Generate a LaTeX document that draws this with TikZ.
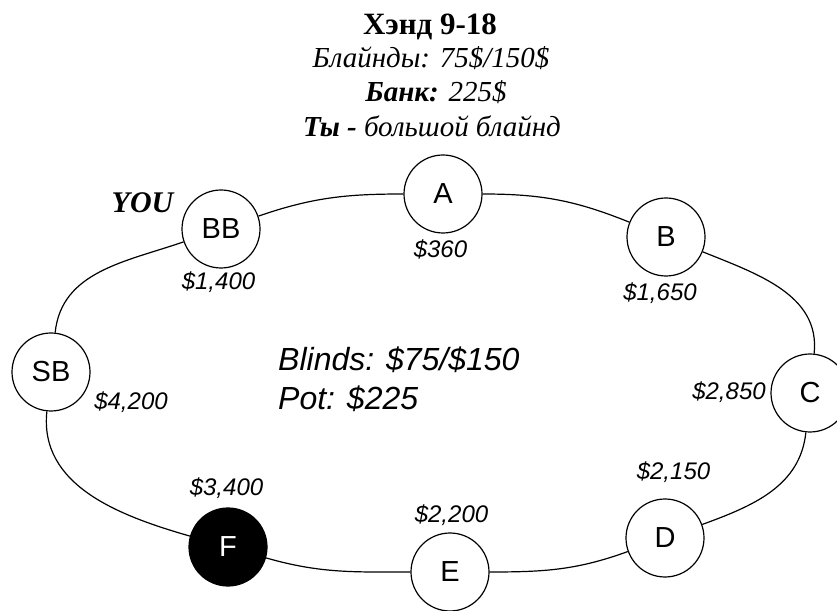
\documentclass[tikz,border=0pt]{standalone}
\usepackage{fontspec}
\setmainfont{Liberation Serif}
\newfontfamily\sansf{Liberation Sans}
\begin{document}
\begin{tikzpicture}[x=1pt,y=1pt,
  seat/.style={circle,draw,line width=1.2pt,fill=white,minimum size=78pt,inner sep=0pt,font=\sansf\fontsize{29}{29}\selectfont},
  dark/.style={seat,fill=black,text=white},
  stack/.style={font=\sansf\itshape\fontsize{24}{24}\selectfont,inner sep=0pt},
  rail/.style={line width=1.2pt},
  title/.style={font=\fontsize{29}{34}\selectfont,inner sep=0pt,anchor=base},
  info/.style={font=\sansf\itshape\fontsize{32}{38}\selectfont,inner sep=0pt,anchor=base west}]
\useasboundingbox (0,0) rectangle (837,610);
% titles
\node[title,font=\fontsize{31}{34}\selectfont] (t1) at (430,575) {\bfseries Хэнд 9-18};
\node[title] (t2) at (431,542) {\itshape Блайнды: 75\$/150\$};
\node[title] (t3) at (436,508) {\bfseries\itshape Банк: \mdseries 225\$};
\node[title] (t4) at (432,473) {\bfseries\itshape Ты - \mdseries большой блайнд};
% seats
\node[seat] (A) at (443,416) {A};
\node[seat] (B) at (666,373) {B};
\node[seat] (C) at (810,217) {C};
\node[seat] (D) at (665,72) {D};
\node[seat] (E) at (450,38) {E};
\node[dark] (F) at (228,63) {F};
\node[seat] (SB) at (51,238) {SB};
\node[seat] (BB) at (221,381) {BB};
% rails
\draw[rail] (A) to[out=0,in=158] (B);
\draw[rail] (B) to[out=-22,in=84] (C);
\draw[rail] (C) to[out=-96,in=20] (D);
\draw[rail] (D) to[out=200,in=0] (E);
\draw[rail] (E) to[out=180,in=-16] (F);
\draw[rail] (F) to[out=164,in=-96] (SB);
\draw[rail] (SB) to[out=84,in=199] (BB);
\draw[rail] (BB) to[out=19,in=180] (A);
% labels
\node[font=\bfseries\itshape\fontsize{30}{30}\selectfont,inner sep=0pt] (you) at (142.5,407.5) {YOU};
\node[stack] (sBB) at (218.5,327.5) {\$1,400};
\node[stack] (sA) at (440.5,361) {\$360};
\node[stack] (sB) at (660,316.5) {\$1,650};
\node[stack] (sC) at (729,217.5) {\$2,850};
\node[stack] (sD) at (673.5,137.5) {\$2,150};
\node[stack] (sE) at (451.5,95) {\$2,200};
\node[stack] (sF) at (226.5,121.5) {\$3,400};
\node[stack] (sSB) at (131,208) {\$4,200};
\node[info] (blinds) at (278,239) {Blinds: \$75/\$150};
\node[info] (pot) at (278,200) {Pot: \$225};
\end{tikzpicture}
\end{document}
